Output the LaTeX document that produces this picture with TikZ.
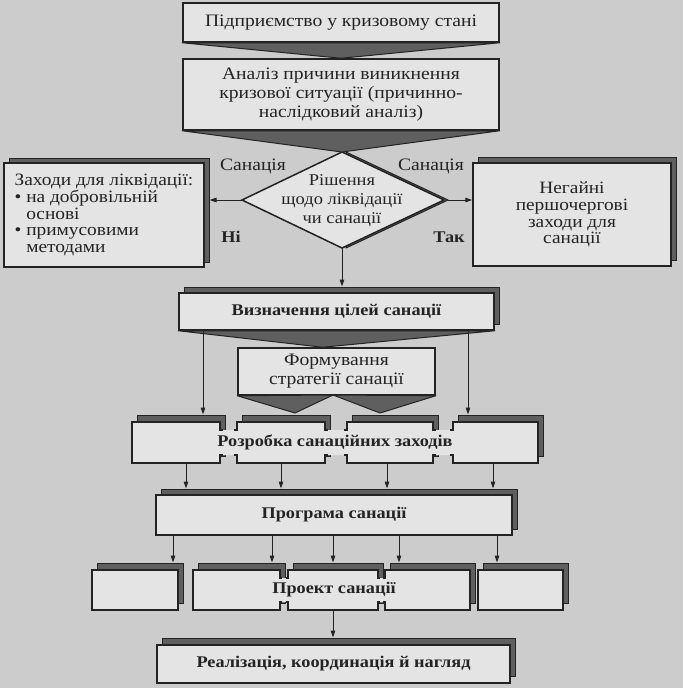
\documentclass[tikz,border=0pt]{standalone}
\usepackage{fontspec}
\setmainfont{Liberation Serif}[FakeStretch=1.12]
\usetikzlibrary{arrows.meta}
\definecolor{bgc}{RGB}{204,204,204}
\definecolor{boxc}{RGB}{228,228,228}
\definecolor{shc}{RGB}{95,95,95}
\definecolor{ink}{RGB}{35,35,35}
\begin{document}
\begin{tikzpicture}[x=1pt,y=-1pt,
  box/.style={draw=ink,fill=boxc,line width=1.5pt,inner sep=0pt,align=center,text=ink},
  shad/.style={draw=ink,fill=shc,line width=1pt,inner sep=0pt},
  tri/.style={draw=ink,fill=shc,line width=1pt,line join=round},
  arr/.style={draw=ink,line width=1pt,-{Triangle[length=7pt,width=4.5pt]}},
  txt/.style={font=\fontsize{17.5}{19}\selectfont,text=ink,align=center,inner sep=0pt},
  btxt/.style={font=\fontsize{16.3}{19}\selectfont\bfseries,text=ink,align=center,inner sep=0pt},
  seg/.style={draw=ink,line width=1.5pt,line join=miter},
  segfill/.style={fill=boxc},
  ]
\fill[bgc] (0,0) rectangle (683,688);
\useasboundingbox (0,0) rectangle (683,688);

% --- top boxes
\node[box,txt,minimum width=316pt,minimum height=39pt] (b1) at (341,22.5) {Підприємство у кризовому стані};
\node[box,txt,minimum width=316pt,minimum height=71pt] (b2) at (341,94.5) {Аналіз причини виникнення\\кризової ситуації (причинно-\\наслідковий аналіз)};
\draw[tri] (b1.south west) -- (b1.south east) -- (b2.north) -- cycle;

% --- diamond
\coordinate (dt) at (342,152);
\coordinate (dl) at (242,200);
\coordinate (dr) at (444,200);
\coordinate (db) at (342,248);
\draw[tri] ([xshift=4pt]dt) -- ([xshift=4pt]dr) -- ([xshift=4pt]db) -- cycle;
\draw[box] (dt) -- (dr) -- (db) -- (dl) -- cycle;
\draw[tri] (b2.south west) -- (b2.south east) -- (dt) -- cycle;
\node[txt,font=\fontsize{16.5}{19}\selectfont] (dia) at (342,201) {Рішення\\щодо ліквідації\\чи санації};

% --- side boxes
\node[shad,minimum width=200pt,minimum height=104pt] (lbs) at (109,210) {};
\node[box,minimum width=200pt,minimum height=104pt] (lb) at (104,215) {};
\node[txt,align=left,font=\fontsize{17.3}{16.8}\selectfont] (lbt) at (104,215) {Заходи для ліквідації:\\• на добровільній\\\phantom{• }основі\\• примусовими\\\phantom{• }методами};
\node[shad,minimum width=198pt,minimum height=103pt] (rbs) at (577,209) {};
\node[box,txt,minimum width=198pt,minimum height=103pt,font=\fontsize{17.3}{16.8}\selectfont] (rb) at (572,214.5) {Негайні\\першочергові\\заходи для\\санації};

\node[txt] (l1) at (253,166) {Санація};
\node[txt] (l2) at (431,166) {Санація};
\node[btxt] (l3) at (231,237) {Ні};
\node[btxt] (l4) at (449,237) {Так};

\draw[arr] (dl) -- (dl -| lbs.east);
\draw[arr] ([xshift=4pt]dr) -- (dr -| rb.west);

% --- Визначення
\node[shad,minimum width=315pt,minimum height=37pt] (vizs) at (341.5,305.5) {};
\node[box,btxt,minimum width=315pt,minimum height=37pt] (viz) at (336.5,311.5) {Визначення цілей санації};
\draw[arr] (db) -- (db |- vizs.north);

% --- Формування
\node[box,txt,minimum width=197pt,minimum height=47pt] (form) at (336.5,371.5) {Формування\\стратегії санації};
\draw[tri] (viz.south west) -- (viz.south east) -- ([xshift=-14pt]form.north) -- cycle;
\coordinate (fm) at (333,395);
\coordinate (fa1) at (295,413);
\coordinate (fa2) at (380,413);
\draw[tri] (form.south west) -- (fm) -- (fa1) -- cycle;
\draw[tri] (fm) -- (form.south east) -- (fa2) -- cycle;

% --- Розробка
\node[shad,minimum width=88pt,minimum height=41pt] (rs1) at (181,435.5) {};
\node[shad,minimum width=88pt,minimum height=41pt] (rs2) at (286,435.5) {};
\node[shad,minimum width=86pt,minimum height=41pt] (rs3) at (395,435.5) {};
\node[shad,minimum width=85pt,minimum height=41pt] (rs4) at (500.5,435.5) {};
\fill[segfill] (132,422) -- (220,422) -- (220,430) -- (237,430) -- (237,422) -- (325,422) -- (325,430) -- (347,430) -- (347,422) -- (433,422) -- (433,430) -- (453,430) -- (453,422) -- (538,422) -- (538,463) -- (453,463) -- (453,455) -- (433,455) -- (433,463) -- (347,463) -- (347,455) -- (325,455) -- (325,463) -- (237,463) -- (237,455) -- (220,455) -- (220,463) -- (132,463) -- cycle;
\draw[seg] (223,430) -- (220,430) -- (220,422) -- (132,422) -- (132,463) -- (220,463) -- (220,455) -- (223,455);
\draw[seg] (234,430) -- (237,430) -- (237,422) -- (325,422) -- (325,430) -- (328,430);
\draw[seg] (234,455) -- (237,455) -- (237,463) -- (325,463) -- (325,455) -- (328,455);
\draw[seg] (344,430) -- (347,430) -- (347,422) -- (433,422) -- (433,430) -- (436,430);
\draw[seg] (344,455) -- (347,455) -- (347,463) -- (433,463) -- (433,455) -- (436,455);
\draw[seg] (450,430) -- (453,430) -- (453,422) -- (538,422) -- (538,463) -- (453,463) -- (453,455) -- (450,455);
\node[btxt] (razr) at (335,442.5) {Розробка санаційних заходів};
\draw[arr] (viz.south -| 203,0) -- (rs1.north -| 203,0);
\draw[arr] (viz.south -| 468,0) -- (rs4.north -| 468,0);

% --- Програма
\node[shad,minimum width=356pt,minimum height=40pt] (progs) at (339,509) {};
\node[box,btxt,minimum width=356pt,minimum height=40pt] (prog) at (334,515) {Програма санації};
\draw[arr] (186,463) -- (progs.north -| 186,0);
\draw[arr] (281,463) -- (progs.north -| 281,0);
\draw[arr] (387,463) -- (progs.north -| 387,0);
\draw[arr] (493,463) -- (progs.north -| 493,0);

% --- Проект
\node[shad,minimum width=86pt,minimum height=40pt] (ps1) at (140,583) {};
\node[shad,minimum width=87pt,minimum height=40pt] (ps2) at (241.5,583) {};
\node[shad,minimum width=90pt,minimum height=40pt] (ps3) at (338,583) {};
\node[shad,minimum width=85pt,minimum height=40pt] (ps4) at (432.5,583) {};
\node[shad,minimum width=85pt,minimum height=40pt] (ps5) at (525.5,583) {};
\node[box,minimum width=86pt,minimum height=40pt] (p1) at (135,590) {};
\node[box,minimum width=85pt,minimum height=40pt] (p5) at (520.5,590) {};
\fill[segfill] (193,570) -- (280,570) -- (280,578) -- (288,578) -- (288,570) -- (378,570) -- (378,578) -- (385,578) -- (385,570) -- (470,570) -- (470,610) -- (385,610) -- (385,602) -- (378,602) -- (378,610) -- (288,610) -- (288,602) -- (280,602) -- (280,610) -- (193,610) -- cycle;
\draw[seg] (282,578) -- (280,578) -- (280,570) -- (193,570) -- (193,610) -- (280,610) -- (280,602) -- (282,602);
\draw[seg] (286,578) -- (288,578) -- (288,570) -- (378,570) -- (378,578) -- (380,578);
\draw[seg] (286,602) -- (288,602) -- (288,610) -- (378,610) -- (378,602) -- (380,602);
\draw[seg] (383,578) -- (385,578) -- (385,570) -- (470,570) -- (470,610) -- (385,610) -- (385,602) -- (383,602);
\node[btxt] (proj) at (334,590) {Проект санації};
\draw[arr] (prog.south -| 173,0) -- (ps1.north -| 173,0);
\draw[arr] (prog.south -| 272,0) -- (ps2.north -| 272,0);
\draw[arr] (prog.south -| 333,0) -- (ps3.north -| 333,0);
\draw[arr] (prog.south -| 399,0) -- (ps4.north -| 399,0);
\draw[arr] (prog.south -| 497,0) -- (ps5.north -| 497,0);

% --- Реалізація
\node[shad,minimum width=353pt,minimum height=38pt] (reals) at (338.5,657) {};
\node[box,btxt,minimum width=353pt,minimum height=38pt] (real) at (333.5,664) {Реалізація, координація й нагляд};
\draw[arr] (333,610) -- (reals.north -| 333,0);
\end{tikzpicture}
\end{document}
